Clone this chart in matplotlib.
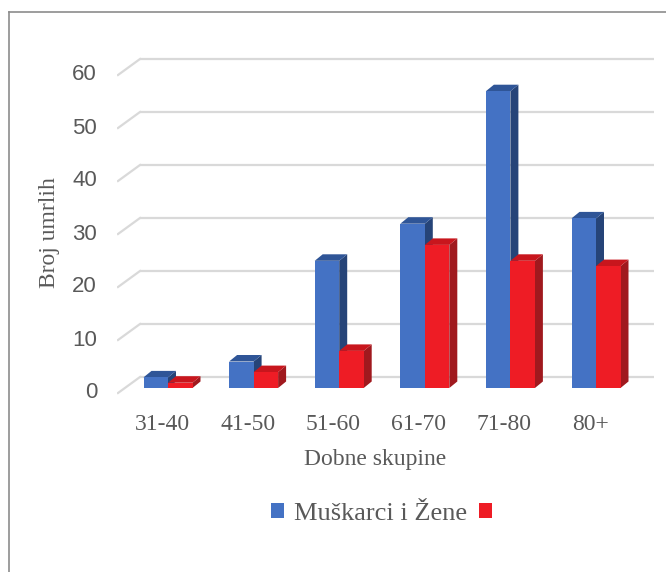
"""Broj umrlih po dobnim skupinama -- Excel-style 3D column chart redone in matplotlib."""

import matplotlib.pyplot as plt
from matplotlib.patches import Polygon, Rectangle
from matplotlib.lines import Line2D

groups = ["31-40", "41-50", "51-60", "61-70", "71-80", "80+"]
muski_i_zene = [2, 5, 24, 31, 56, 32]
zene = [1, 3, 7, 27, 24, 23]
yticks = [0, 10, 20, 30, 40, 50, 60]

BLUE = ("#4472C4", "#2F5597", "#264478")   # front, top, side
RED = ("#EE1C25", "#C8161D", "#A0191E")
GRID = "#D9D9D9"
TXT = "#595959"

W, H = 666, 572
# pixel geometry of the plot (from top-left of the image)
X0_PX, DX_PX = 168.0, 85.6      # first group centre, group spacing
Y0_PX, DY_PX = 388.0, 5.3       # bar base, pixels per unit
XLIM = (-0.6, 5.7)
YLIM = (-3, 64)

BAR_W = 24.5 / DX_PX
DEPTH_X, DEPTH_Y = 8 / DX_PX, 6.5 / DY_PX          # bar depth
WALL_X, WALL_Y = 22 / DX_PX, 11 / DY_PX            # back wall offset
STUB_DROP = 5 / DY_PX
STUB_X0 = (118 - X0_PX) / DX_PX
GRID_X1 = (654 - X0_PX) / DX_PX


def bar3d(ax, x, h, cols):
    front, top, side = cols
    xr = x + BAR_W
    ax.add_patch(Polygon([(xr, 0), (xr + DEPTH_X, DEPTH_Y), (xr + DEPTH_X, h + DEPTH_Y), (xr, h)],
                         closed=True, fc=side, ec="none", zorder=3))
    ax.add_patch(Polygon([(x, h), (x + DEPTH_X, h + DEPTH_Y), (xr + DEPTH_X, h + DEPTH_Y), (xr, h)],
                         closed=True, fc=top, ec="none", zorder=3))
    ax.add_patch(Rectangle((x, 0), BAR_W, h, fc=front, ec="none", zorder=3))


def main():
    fig = plt.figure(figsize=(W / 100, H / 100), dpi=100)
    left = X0_PX + DX_PX * XLIM[0]
    right = X0_PX + DX_PX * XLIM[1]
    bottom = Y0_PX - DY_PX * YLIM[0]
    top = Y0_PX - DY_PX * YLIM[1]
    ax = fig.add_axes([left / W, 1 - bottom / H, (right - left) / W, (bottom - top) / H])
    ax.set_xlim(*XLIM)
    ax.set_ylim(*YLIM)
    for s in ax.spines.values():
        s.set_visible(False)
    ax.set_yticks([])

    # back wall gridlines + diagonal floor/side stubs
    for v in yticks:
        ax.plot([STUB_X0 + WALL_X, GRID_X1], [v + WALL_Y, v + WALL_Y], color=GRID, lw=1.6, zorder=1,
                solid_capstyle="butt")
        ax.plot([STUB_X0, STUB_X0 + WALL_X], [v - STUB_DROP, v + WALL_Y], color=GRID, lw=1.6, zorder=1)
        ax.annotate(str(v), (STUB_X0, v - STUB_DROP), xytext=(-21, 0), textcoords="offset pixels",
                    ha="right", va="center", fontsize=16, color=TXT, family="Liberation Sans")

    for i in range(len(groups)):
        bar3d(ax, i - BAR_W, muski_i_zene[i], BLUE)
        bar3d(ax, i, zene[i], RED)

    ax.set_xticks([i - 0.07 for i in range(len(groups))], groups)
    ax.tick_params(axis="x", length=0, pad=7, labelsize=17, labelcolor=TXT)
    for t in ax.get_xticklabels():
        t.set_family("Liberation Serif")

    fig.text(50 / W, 1 - 233 / H, "Broj umrlih", rotation=90, ha="center", va="center",
             fontsize=17, color=TXT, family="Liberation Serif")
    fig.text(375 / W, 1 - 459 / H, "Dobne skupine", ha="center", va="center",
             fontsize=17, color=TXT, family="Liberation Serif")

    handles = [Rectangle((0, 0), 1, 1, fc=BLUE[0], ec="none"),
               Rectangle((0, 0), 1, 1, fc=RED[0], ec="none")]
    fig.legend(handles, ["Muškarci i Žene", ""], ncol=2, loc="center", bbox_to_anchor=(386 / W, 1 - 514 / H),
               frameon=False, prop={"family": "Liberation Serif", "size": 19}, labelcolor=TXT,
               handlelength=0.5, handleheight=0.5, handletextpad=0.35, columnspacing=0.45)

    # chart border (top + left only visible)
    fig.add_artist(Line2D([9 / W, 9 / W], [0, 1 - 12 / H], color="#8C8C8C", lw=1.2))
    fig.add_artist(Line2D([9 / W, 1], [1 - 12 / H, 1 - 12 / H], color="#8C8C8C", lw=1.2))

    fig.savefig("out.png", dpi=100, facecolor="white")


if __name__ == "__main__":
    main()
